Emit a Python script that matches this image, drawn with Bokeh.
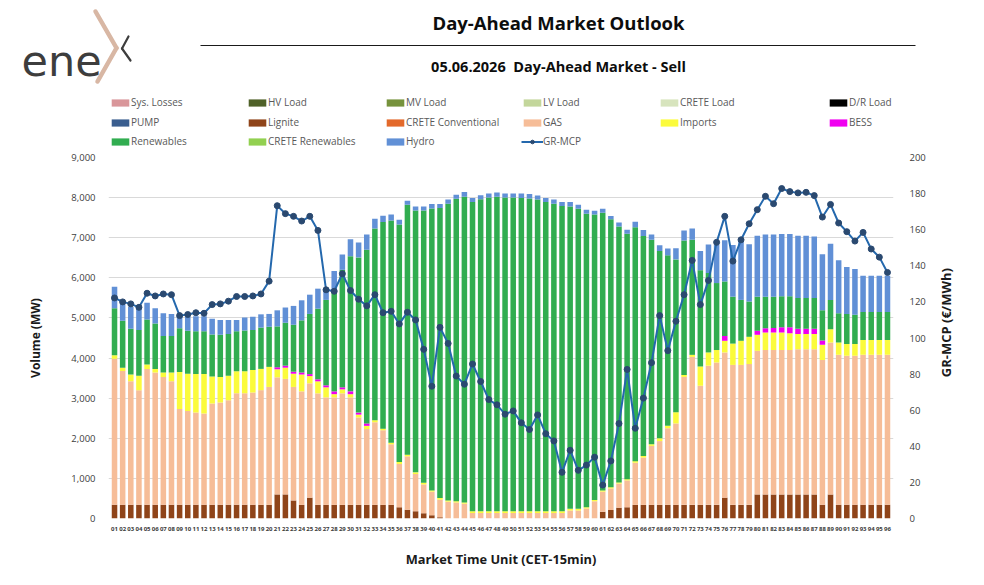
import math

from bokeh.embed import file_html
from bokeh.layouts import column, row
from bokeh.models import (Arrow, ColumnDataSource, FixedTicker, Label, Legend,
                          LegendItem, LinearAxis, NumeralTickFormatter, Range1d)
from bokeh.plotting import figure
from bokeh.resources import INLINE

# ---------------------------------------------------------------- data
mtu = [1, 2, 3, 4, 5, 6, 7, 8, 9, 10, 11, 12, 13, 14, 15, 16, 17, 18, 19, 20,
       21, 22, 23, 24, 25, 26, 27, 28, 29, 30, 31, 32, 33, 34, 35, 36, 37, 38, 39, 40,
       41, 42, 43, 44, 45, 46, 47, 48, 49, 50, 51, 52, 53, 54, 55, 56, 57, 58, 59, 60,
       61, 62, 63, 64, 65, 66, 67, 68, 69, 70, 71, 72, 73, 74, 75, 76, 77, 78, 79, 80,
       81, 82, 83, 84, 85, 86, 87, 88, 89, 90, 91, 92, 93, 94, 95, 96]
mtu_labels = ["%02d" % m for m in mtu]

# sell volumes per market time unit (MW)
lignite = [340, 340, 340, 340, 340, 340, 340, 340, 340, 340, 340, 340, 340, 340, 340, 340, 340, 340, 340, 340,
           600, 600, 450, 340, 520, 340, 340, 340, 340, 340, 340, 340, 340, 340, 340, 280, 220, 180, 130, 80,
           30, 0, 0, 0, 0, 0, 0, 0, 0, 0, 0, 0, 0, 0, 0, 0, 0, 0, 0, 0,
           170, 210, 270, 280, 340, 340, 340, 340, 340, 340, 340, 340, 340, 340, 340, 520, 340, 340, 340, 600,
           600, 600, 600, 600, 600, 600, 600, 340, 600, 340, 340, 340, 340, 340, 340, 340]
gas = [3640, 3340, 3080, 2860, 3390, 3300, 3190, 3080, 2390, 2340, 2300, 2280, 2530, 2550, 2610, 2780, 2780, 2800, 2860, 2940,
       2920, 2880, 2830, 2830, 2850, 2780, 2680, 2680, 2780, 2680, 2180, 1890, 2060, 1860, 1510, 1080, 1330, 930, 720, 590,
       440, 420, 400, 370, 140, 140, 140, 140, 140, 140, 140, 140, 140, 140, 140, 140, 200, 200, 250, 430,
       500, 540, 600, 670, 1050, 1180, 1470, 1590, 1910, 2030, 3190, 3690, 2970, 3470, 3550, 3620, 3490, 3490, 3510, 3580,
       3600, 3600, 3600, 3600, 3620, 3620, 3620, 3610, 3790, 3740, 3720, 3720, 3740, 3740, 3740, 3740]
imports = [90, 80, 170, 360, 110, 90, 110, 220, 920, 930, 960, 980, 670, 640, 610, 550, 550, 560, 530, 500,
           200, 280, 330, 420, 180, 300, 250, 80, 100, 80, 70, 80, 50, 40, 40, 50, 40, 40, 40, 30,
           40, 30, 30, 30, 40, 40, 40, 40, 40, 40, 40, 40, 40, 40, 40, 40, 40, 40, 30, 30,
           30, 30, 30, 30, 40, 40, 40, 70, 60, 280, 50, 50, 480, 330, 310, 290, 530, 600, 680, 400,
           440, 440, 440, 420, 380, 380, 380, 380, 330, 310, 290, 290, 370, 370, 370, 370]
bess = [0, 0, 0, 0, 0, 0, 0, 0, 0, 0, 0, 0, 0, 0, 0, 0, 0, 0, 0, 0,
        50, 50, 50, 50, 50, 50, 50, 70, 50, 70, 50, 60, 0, 0, 0, 0, 0, 0, 0, 0,
        0, 0, 0, 0, 0, 0, 0, 0, 0, 0, 0, 0, 0, 0, 0, 0, 0, 0, 0, 0,
        0, 0, 0, 0, 0, 0, 0, 0, 0, 0, 0, 0, 0, 0, 0, 120, 0, 0, 0, 100,
        100, 110, 130, 150, 130, 130, 130, 110, 0, 0, 0, 0, 0, 0, 0, 0]
renewables = [1170, 1170, 1140, 1140, 1120, 1130, 910, 910, 1090, 1070, 1070, 1070, 1050, 1050, 1040, 1000, 1020, 1000, 1030, 1000,
              1020, 1070, 1170, 1300, 1500, 1760, 2130, 2480, 2930, 3370, 3870, 4330, 4780, 5150, 5540, 5920, 6230, 6530, 6790, 7030,
              7230, 7400, 7540, 7620, 7710, 7780, 7820, 7840, 7820, 7820, 7810, 7800, 7770, 7710, 7670, 7610, 7540, 7480, 7320, 7120,
              6920, 6680, 6380, 6120, 5830, 5480, 5100, 4670, 4250, 3810, 3350, 2870, 2400, 1980, 1670, 1360, 1170, 1020, 880, 850,
              790, 780, 770, 770, 770, 770, 770, 750, 730, 730, 750, 730, 700, 700, 700, 700]
hydro = [540, 500, 540, 570, 420, 380, 570, 550, 330, 350, 370, 370, 390, 370, 350, 280, 320, 330, 330, 320,
         400, 380, 470, 500, 480, 500, 300, 520, 380, 420, 370, 380, 240, 160, 150, 120, 100, 100, 100, 110,
         100, 100, 100, 120, 100, 100, 100, 110, 100, 100, 110, 110, 100, 100, 100, 100, 110, 100, 100, 90,
         100, 80, 100, 100, 140, 150, 130, 140, 170, 280, 250, 280, 480, 710, 960, 1030, 1290, 1470, 1430, 1520,
         1550, 1550, 1550, 1550, 1550, 1550, 1530, 1400, 1400, 1320, 1170, 1140, 900, 900, 900, 900]

# market clearing price (EUR/MWh)
gr_mcp = [122.2, 120.0, 118.9, 117.0, 124.8, 123.3, 124.4, 124.0, 112.4, 113.0, 114.0, 113.7, 118.5, 118.9, 120.4, 123.0,
          123.0, 123.3, 124.4, 131.5, 173.3, 168.9, 167.4, 164.8, 167.4, 159.6, 126.7, 125.9, 135.6, 126.3, 121.5, 117.8,
          124.0, 114.0, 114.8, 107.8, 114.3, 110.0, 93.7, 73.3, 105.9, 97.0, 78.9, 74.4, 85.6, 75.9, 65.9, 63.0,
          57.8, 59.6, 53.0, 49.3, 57.4, 47.0, 43.0, 25.6, 37.8, 26.7, 29.6, 34.0, 18.5, 31.9, 52.6, 82.6,
          50.0, 66.7, 86.3, 112.4, 93.0, 109.3, 124.0, 143.0, 118.5, 131.9, 153.0, 167.4, 142.6, 154.4, 163.3, 171.1,
          178.5, 174.4, 182.8, 181.1, 180.4, 180.7, 178.9, 167.0, 174.0, 163.7, 158.9, 153.7, 158.5, 149.3, 144.8, 136.3]

volume_ticks = [0, 1000, 2000, 3000, 4000, 5000, 6000, 7000, 8000, 9000]
price_ticks = [0, 20, 40, 60, 80, 100, 120, 140, 160, 180, 200]

# legend entries in reading order (row by row)
legend_names = ["Sys. Losses", "HV Load", "MV Load", "LV Load", "CRETE Load", "D/R Load",
                "PUMP", "Lignite", "CRETE Conventional", "GAS", "Imports", "BESS",
                "Renewables", "CRETE Renewables", "Hydro", "GR-MCP"]

# ---------------------------------------------------------------- style
FONT = "Open Sans"
TEXT = "#404040"
colors = {
    "Sys. Losses": "#d9969a", "HV Load": "#4f6128", "MV Load": "#76923c",
    "LV Load": "#c3d69b", "CRETE Load": "#d7e4bd", "D/R Load": "#000000",
    "PUMP": "#3a5e8f", "Lignite": "#8f4419", "CRETE Conventional": "#e3692a",
    "GAS": "#f6bd98", "Imports": "#fbfb3c", "BESS": "#f000f0",
    "Renewables": "#31ad50", "CRETE Renewables": "#92d050", "Hydro": "#6190d6",
}
LINE_COLOR = "#2468ad"
MARKER_COLOR = "#2a4970"

W = 984
HEAD_H = 150            # header band (logo, titles, legend)
MAIN_H = 435            # chart band
SIDE_W = 50             # band holding the right axis title
FL, FR = 108, 893       # plot frame left / right (page px)
FT, FB = 157, 518       # plot frame top / bottom (page px)
NAN = float("nan")

# ---------------------------------------------------------------- header
hdr = figure(width=W, height=HEAD_H, output_backend="svg", toolbar_location=None,
             x_range=Range1d(0, W), y_range=Range1d(HEAD_H, 0),
             x_axis_type=None, y_axis_type=None, min_border=0)
hdr.outline_line_color = None
hdr.xgrid.visible = False
hdr.ygrid.visible = False

hdr.add_layout(Label(x=558, y=22, text="Day-Ahead Market Outlook",
                     text_align="center", text_baseline="middle",
                     text_font=FONT, text_font_style="bold",
                     text_font_size="18.5px", text_color="#0d0d0d"))
hdr.add_layout(Arrow(end=None, x_start=200, y_start=45, x_end=915, y_end=45,
                     line_color="#1a1a1a", line_width=1.2))
hdr.add_layout(Label(x=558, y=66, text="05.06.2026\u00a0\u00a0Day-Ahead Market - Sell",
                     text_align="center", text_baseline="middle",
                     text_font=FONT, text_font_style="bold",
                     text_font_size="14.5px", text_color="#0d0d0d"))

# company logo: "ene" plus a chevron-style x
hdr.add_layout(Label(x=21, y=60, text="ene", text_align="left",
                     text_baseline="alphabetic", text_font="DejaVu Sans",
                     text_font_size="43px", text_color="#3d3d3d"))
for (x0, y0, x1, y1) in [(95, 11, 116, 47.5), (116, 47.5, 97, 81)]:
    hdr.add_layout(Arrow(end=None, x_start=x0, y_start=y0, x_end=x1, y_end=y1,
                         line_color="#d8b7a4", line_width=4.5, line_cap="round"))
for (x0, y0, x1, y1) in [(128, 36, 121.5, 48), (121.5, 48, 130, 60)]:
    hdr.add_layout(Arrow(end=None, x_start=x0, y_start=y0, x_end=x1, y_end=y1,
                         line_color="#3d3d3d", line_width=2.2, line_cap="round"))

# legend-only renderers (no visible marks) carrying the series styles
legend_renderers = {}
for name in legend_names[:-1]:
    legend_renderers[name] = [hdr.vbar(x=[NAN], top=[NAN], width=1,
                                       fill_color=colors[name], line_color=None)]
legend_renderers["GR-MCP"] = [
    hdr.line(x=[NAN], y=[NAN], line_color=LINE_COLOR, line_width=2),
    hdr.scatter(x=[NAN], y=[NAN], marker="circle", size=6,
                fill_color=MARKER_COLOR, line_color=MARKER_COLOR),
]

col_x = [111, 248, 386, 523, 660, 829]   # swatch left edges
row_y = [102, 122, 141]                  # row centres
for i, name in enumerate(legend_names):
    r, c = divmod(i, 6)
    leg = Legend(items=[LegendItem(label=name, renderers=legend_renderers[name])],
                 location=(col_x[c] - 2, HEAD_H - (row_y[r] + 7)),
                 orientation="horizontal", padding=0, margin=0, spacing=0,
                 border_line_color=None, background_fill_alpha=0,
                 glyph_width=22, glyph_height=9, label_height=9,
                 label_standoff=0, label_text_font=FONT,
                 label_text_font_size="10px", label_text_color="#595959")
    hdr.add_layout(leg)

# ---------------------------------------------------------------- chart
p = figure(width=W - SIDE_W, height=MAIN_H, output_backend="svg",
           toolbar_location=None,
           x_range=Range1d(0.26, 96.74), y_range=Range1d(0, 9000),
           min_border_left=FL, min_border_right=W - SIDE_W - FR,
           min_border_top=FT - HEAD_H, min_border_bottom=HEAD_H + MAIN_H - FB)
p.outline_line_color = None
p.background_fill_color = "white"
p.border_fill_color = "white"
p.extra_y_ranges = {"mcp": Range1d(0, 200)}

src = ColumnDataSource(dict(x=mtu, lignite=lignite, gas=gas, imports=imports,
                            bess=bess, renewables=renewables, hydro=hydro,
                            price=gr_mcp))

stack_keys = ["lignite", "gas", "imports", "bess", "renewables", "hydro"]
stack_names = ["Lignite", "GAS", "Imports", "BESS", "Renewables", "Hydro"]
p.vbar_stack(stack_keys, x="x", width=0.68, source=src,
             fill_color=[colors[n] for n in stack_names], line_color=None)

p.line("x", "price", source=src, y_range_name="mcp",
       line_color=LINE_COLOR, line_width=2)
p.scatter("x", "price", source=src, y_range_name="mcp", marker="circle",
          size=6, fill_color=MARKER_COLOR, line_color=MARKER_COLOR)


def style_axis(ax, size):
    ax.axis_line_color = None
    ax.major_tick_line_color = None
    ax.minor_tick_line_color = None
    ax.major_label_text_font = FONT
    ax.major_label_text_font_size = size
    ax.major_label_text_color = TEXT
    ax.axis_label_text_font = FONT
    ax.axis_label_text_font_style = "bold"
    ax.axis_label_text_color = "#1a1a1a"


xax = p.xaxis[0]
xax.ticker = FixedTicker(ticks=mtu)
xax.major_label_overrides = dict(zip(mtu, mtu_labels))
style_axis(xax, "6px")
xax.major_label_text_font_style = "bold"
xax.major_label_text_color = "#3a3a3a"
xax.major_label_standoff = 2
xax.axis_label = "Market Time Unit (CET-15min)"
xax.axis_label_text_font_size = "12.8px"
xax.axis_label_standoff = 16

yax = p.yaxis[0]
yax.ticker = FixedTicker(ticks=volume_ticks)
yax.formatter = NumeralTickFormatter(format="0,0")
style_axis(yax, "9.5px")
yax.major_label_standoff = 7
yax.axis_label = "Volume (MW)"
yax.axis_label_text_font_size = "12px"
yax.axis_label_standoff = 24

rax = LinearAxis(y_range_name="mcp", ticker=FixedTicker(ticks=price_ticks))
style_axis(rax, "9.5px")
rax.major_label_standoff = 10
p.add_layout(rax, "right")

p.xgrid.visible = False
p.ygrid.grid_line_color = "#d9d9d9"
p.ygrid.grid_line_width = 1

# ---------------------------------------------------------------- right axis title
side = figure(width=SIDE_W, height=MAIN_H, output_backend="svg",
              toolbar_location=None, x_range=Range1d(0, SIDE_W),
              y_range=Range1d(MAIN_H, 0), x_axis_type=None, y_axis_type=None,
              min_border=0)
side.outline_line_color = None
side.xgrid.visible = False
side.ygrid.visible = False
side.add_layout(Label(x=945 - (W - SIDE_W), y=349 - HEAD_H,
                      text="GR-MCP (€/MWh)", angle=math.pi / 2,
                      text_align="center", text_baseline="middle",
                      text_font=FONT, text_font_style="bold",
                      text_font_size="13px", text_color="#1a1a1a"))

layout = column(hdr, row(p, side, spacing=0), spacing=0)
open("out.html", "w").write(file_html(layout, INLINE))
